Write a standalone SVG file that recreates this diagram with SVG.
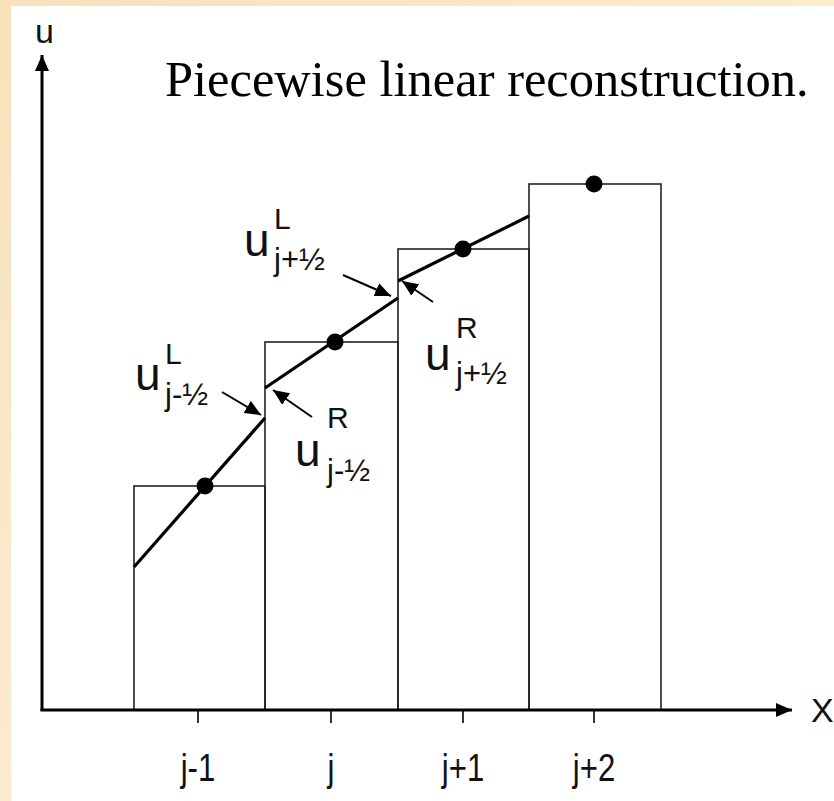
<svg xmlns="http://www.w3.org/2000/svg" width="834" height="801" viewBox="0 0 834 801">
<style>
.cell{fill:none;stroke:#222;stroke-width:1.6}
.axis{fill:none;stroke:#000;stroke-width:3}
.recon{fill:none;stroke:#000;stroke-width:3.2}
.ptr{fill:none;stroke:#000;stroke-width:2}
.tick{stroke:#000;stroke-width:1.6}
.dot{fill:#000}
.sans{font-family:"Liberation Sans",Arial,sans-serif;fill:#111}
.u{font-size:46px}
.sc{font-size:30px}
.sb{font-size:31px}
.tl{font-size:38px}
.title{font-family:"Liberation Serif","Times New Roman",serif;font-size:50.5px;fill:#000}
</style>
<defs>
<linearGradient id="bg" x1="0" y1="0" x2="1" y2="1">
<stop offset="0" stop-color="#f6e1bb"/>
<stop offset="0.5" stop-color="#fbebcf"/>
<stop offset="1" stop-color="#f7e3c2"/>
</linearGradient>
<marker id="axhead" markerUnits="userSpaceOnUse" markerWidth="18" markerHeight="14" refX="16" refY="7" orient="auto">
<path d="M0,0 L16,7 L0,14 Z" fill="#000"/>
</marker>
<marker id="ptrhead" markerUnits="userSpaceOnUse" markerWidth="18" markerHeight="14" refX="16" refY="7" orient="auto">
<path d="M0,0 L16,7 L0,14 Z" fill="#000"/>
</marker>
</defs>
<rect x="0" y="0" width="834" height="801" fill="url(#bg)"/>
<rect x="11" y="6" width="823" height="795" fill="#fff"/>

<g id="cell-jm1"><rect class="cell" x="134" y="486" width="131" height="224"/><circle class="dot" cx="205" cy="486" r="8.5"/></g>
<g id="cell-j"><rect class="cell" x="265" y="342" width="133" height="368"/><circle class="dot" cx="335" cy="342" r="8.5"/></g>
<g id="cell-jp1"><rect class="cell" x="398" y="249" width="131" height="461"/><circle class="dot" cx="463" cy="249" r="8.5"/></g>
<g id="cell-jp2"><rect class="cell" x="529" y="184" width="132" height="526"/><circle class="dot" cx="594" cy="184" r="8.5"/></g>

<g id="reconstruction">
<line class="recon" x1="134" y1="567" x2="265" y2="418"/>
<line class="recon" x1="265" y1="388" x2="398" y2="298"/>
<line class="recon" x1="398" y1="281" x2="529" y2="216"/>
</g>

<g id="axes">
<line class="axis" x1="42" y1="711" x2="42" y2="55" marker-end="url(#axhead)"/>
<line class="axis" x1="40.5" y1="710" x2="792" y2="710" marker-end="url(#axhead)"/>
<line class="tick" x1="198" y1="711" x2="198" y2="723"/>
<line class="tick" x1="331" y1="711" x2="331" y2="723"/>
<line class="tick" x1="463" y1="711" x2="463" y2="723"/>
<line class="tick" x1="594" y1="711" x2="594" y2="723"/>
<text class="sans" x="35" y="43" font-size="34">u</text>
<text class="sans" x="811" y="722" font-size="34">X</text>
<text class="sans tl" transform="translate(198,781) scale(0.82,1)" text-anchor="middle">j-1</text>
<text class="sans tl" transform="translate(331,781) scale(0.82,1)" text-anchor="middle">j</text>
<text class="sans tl" transform="translate(463,781) scale(0.82,1)" text-anchor="middle">j+1</text>
<text class="sans tl" transform="translate(594,781) scale(0.82,1)" text-anchor="middle">j+2</text>
</g>

<g id="connectors">
<line class="ptr" x1="222" y1="392" x2="261" y2="415" marker-end="url(#ptrhead)"/>
<line class="ptr" x1="312" y1="417" x2="273" y2="390" marker-end="url(#ptrhead)"/>
<line class="ptr" x1="343" y1="275" x2="391" y2="296" marker-end="url(#ptrhead)"/>
<line class="ptr" x1="433" y1="302" x2="402" y2="281" marker-end="url(#ptrhead)"/>
</g>

<g id="label-uL-jm">
<text class="sans u" x="135" y="390">u</text>
<text class="sans sc" x="165" y="364">L</text>
<text class="sans sb" x="165" y="405">j-½</text>
</g>
<g id="label-uR-jm">
<text class="sans u" x="295" y="466">u</text>
<text class="sans sc" x="327" y="428">R</text>
<text class="sans sb" x="327" y="481">j-½</text>
</g>
<g id="label-uL-jp">
<text class="sans u" x="244" y="256">u</text>
<text class="sans sc" x="274" y="229">L</text>
<text class="sans sb" x="274" y="270">j+½</text>
</g>
<g id="label-uR-jp">
<text class="sans u" x="425" y="370">u</text>
<text class="sans sc" x="456" y="338">R</text>
<text class="sans sb" x="456" y="384">j+½</text>
</g>

<text class="title" x="165" y="96">Piecewise linear reconstruction.</text>
</svg>
